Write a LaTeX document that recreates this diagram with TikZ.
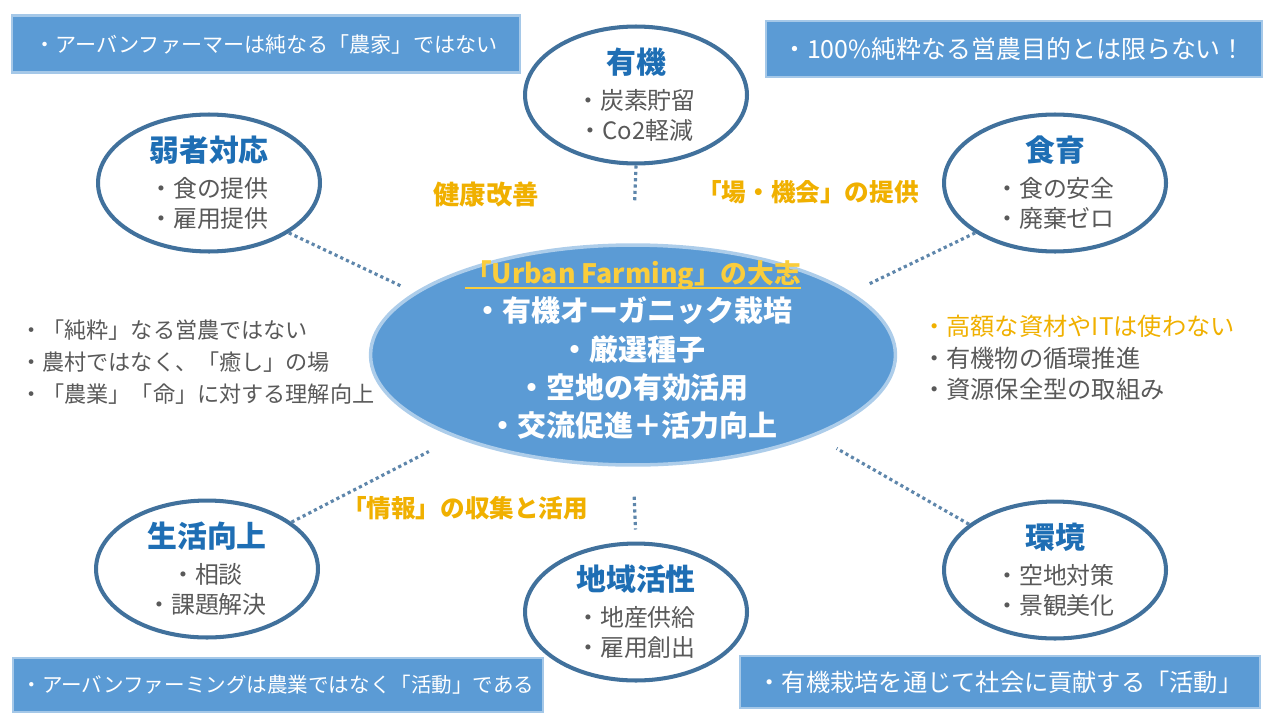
\documentclass[tikz,border=0pt]{standalone}
\usepackage{fontspec}
\setmainfont{Noto Sans CJK JP}
\usepackage{xcolor}
\usetikzlibrary{positioning, shapes.geometric}

\definecolor{boxblue}{RGB}{91,155,213}
\definecolor{rimblue}{RGB}{65,113,156}
\definecolor{headblue}{RGB}{30,110,180}
\definecolor{txtgray}{RGB}{89,89,89}
\definecolor{gold}{RGB}{240,176,0}
\definecolor{palegold}{RGB}{250,205,60}

\newcommand{\bubtitle}[1]{{\fontsize{17}{20}\selectfont\bfseries\color{headblue}#1}}
\newlength{\ulwidth}
\newcommand{\goldul}[1]{\settowidth{\ulwidth}{#1}\rlap{#1}\rule[-2.8pt]{\ulwidth}{1pt}}

\begin{document}
\begin{tikzpicture}[x=0.02cm, y=-0.02cm,
  bubble/.style={ellipse, draw=rimblue, line width=2.3pt, fill=white,
    minimum width=4.44cm, minimum height=2.74cm, inner sep=-2pt,
    align=center, text=txtgray, font=\fontsize{13.6}{17}\selectfont},
  banner/.style={rectangle, fill=boxblue, draw=boxblue!55, line width=1.5pt,
    text=white, inner sep=0pt},
  link/.style={rimblue!85, line width=1.8pt, dash pattern=on 1.8pt off 1.8pt},
  hint/.style={text=gold, font=\fontsize{14}{16}\selectfont\bfseries}]

\useasboundingbox (0,0) rectangle (1280,720);

% banners
\node[banner, minimum width=10.16cm, minimum height=1.14cm, font=\fontsize{12}{14}\selectfont] (topL) at (266,44) {・アーバンファーマーは純なる「農家」ではない};
\node[banner, minimum width=9.92cm, minimum height=1.12cm, font=\fontsize{14.2}{16}\selectfont] (topR) at (1014,49) {・100\%純粋なる営農目的とは限らない！};
\node[banner, minimum width=10.6cm, minimum height=1.08cm, font=\fontsize{11.7}{14}\selectfont] (botL) at (278,685) {・アーバンファーミングは農業ではなく「活動」である};
\node[banner, minimum width=10.4cm, minimum height=1.04cm, font=\fontsize{13.8}{16}\selectfont] (botR) at (1000,682) {・有機栽培を通じて社会に貢献する「活動」};

% centre
\node[ellipse, fill=boxblue, draw=boxblue!50, line width=2pt, minimum width=10.5cm, minimum height=4.4cm,
  inner sep=-0.5cm, align=center, text=white, font=\fontsize{16.5}{21.8}\selectfont\bfseries] (core) at (633,355)
  {{\fontsize{15.2}{21.8}\selectfont\color{palegold}\goldul{「Urban Farming」の大志}}\\ ・有機オーガニック栽培\\ ・厳選種子\\ ・空地の有効活用\\ ・交流促進＋活力向上\rule[-7pt]{0pt}{1pt}};

% bubbles
\node[bubble] (ruo) at (209,183) {\bubtitle{弱者対応}\\[3.5pt] ・食の提供\\ ・雇用提供};
\node[bubble] (yuki) at (636,95) {\bubtitle{有機}\\[3.5pt] ・炭素貯留\\ ・Co2軽減};
\node[bubble] (shoku) at (1055,183) {\bubtitle{食育}\\[3.5pt] ・食の安全\\ ・廃棄ゼロ};
\node[bubble] (sei) at (207,569) {\bubtitle{生活向上}\\[3.5pt] ・相談\\ ・課題解決};
\node[bubble] (chiiki) at (636,612) {\bubtitle{地域活性}\\[3.5pt] ・地産供給\\ ・雇用創出};
\node[bubble] (kan) at (1055,570) {\bubtitle{環境}\\[3.5pt] ・空地対策\\ ・景観美化};

\draw[link, shorten >=0.3cm] (ruo.-32) -- (core.164);
\draw[link, shorten >=0.86cm] (yuki.south) -- (core.north);
\draw[link, shorten >=0.35cm] (shoku.212) -- (core.16);
\draw[link, shorten >=0.6cm] (sei.29) -- (core.205);
\draw[link, shorten <=0.6cm, shorten >=0.24cm] (core.south) -- (chiiki.north);
\draw[link, shorten >=0.5cm] (kan.152) -- (core.-24);

% side notes
\node[hint, font=\fontsize{15}{16}\selectfont\bfseries] (kenko) at (486,195) {健康改善};
\node[hint] (basho) at (808,192) {「場・機会」の提供};
\node[hint] (joho) at (465,508) {「情報」の収集と活用};

\node[anchor=west, align=left, text=txtgray, font=\fontsize{12.6}{18}\selectfont] (leftnote) at (14,362)
  {・「純粋」なる営農ではない\\ ・農村ではなく、「癒し」の場\\ ・「農業」「命」に対する理解向上};
\node[anchor=west, align=left, text=txtgray, font=\fontsize{13.8}{18}\selectfont] (rightnote) at (916,358)
  {{\color{gold}・高額な資材やITは使わない}\\ ・有機物の循環推進\\ ・資源保全型の取組み};

\end{tikzpicture}
\end{document}
